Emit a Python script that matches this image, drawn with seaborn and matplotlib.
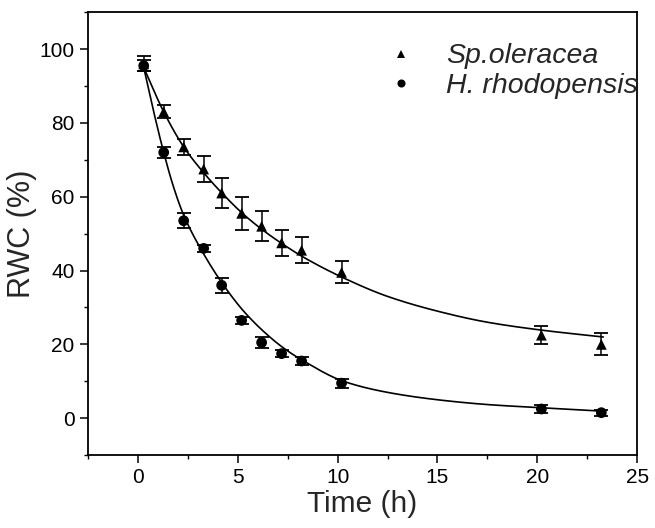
import numpy as np
import pandas as pd
import matplotlib
matplotlib.use("Agg")
import matplotlib.pyplot as plt
import seaborn as sns
from matplotlib.ticker import MultipleLocator

# ---- data ----
time_h = [0.3, 1.3, 2.3, 3.3, 4.2, 5.2, 6.2, 7.2, 8.2, 10.2, 20.2, 23.2]
sp_rwc = [96, 83, 73.5, 67.5, 61, 55.5, 52, 47.5, 45.5, 39.5, 22.5, 20]
sp_err = [2, 1.8, 2.2, 3.5, 4, 4.5, 4, 3.5, 3.5, 3, 2.5, 3]
hr_rwc = [95.5, 72, 53.5, 46, 36, 26.5, 20.5, 17.5, 15.5, 9.5, 2.5, 1.5]
hr_err = [1.5, 1.5, 2, 1, 2, 1, 1.5, 1, 1, 1.2, 1, 0.8]

# fitted curves
sp_fit_x = [0.3, 1.3, 2.3, 3.3, 4.3, 5.3, 6.3, 7.3, 8.3, 10.3, 12.5, 15, 17.5, 20.3, 23.3]
sp_fit_y = [95, 83, 73.5, 66.5, 60.5, 55.2, 50.8, 47, 43.6, 38, 33, 29, 26, 23.8, 22]
hr_fit_x = [0.3, 0.8, 1.3, 1.8, 2.3, 3.3, 4.3, 5.3, 6.3, 7.3, 8.3, 10.3, 12.5, 15, 17.5, 20.3, 23.3]
hr_fit_y = [95, 83, 72, 62.5, 55, 44.5, 36, 29, 23.5, 19, 15.5, 10, 7, 5, 3.7, 2.8, 1.9]

labels = ["Sp.oleracea", "H. rhodopensis"]
x_ticks = [0, 5, 10, 15, 20, 25]
y_ticks = [0, 20, 40, 60, 80, 100]

sns.set_theme(style="ticks")
plt.rcParams["font.family"] = ["Liberation Sans", "DejaVu Sans"]

fig = plt.figure(figsize=(6.55, 5.28), dpi=100)
ax = fig.add_axes([0.134, 0.138, 0.839, 0.839])


def pchip(xs, ys, n=500):
    """Monotone cubic (Fritsch-Carlson) smoothing through the read-off points."""
    x = np.asarray(xs, float)
    y = np.asarray(ys, float)
    h = np.diff(x)
    d = np.diff(y) / h
    m = np.zeros_like(y)
    for k in range(1, len(x) - 1):
        if d[k - 1] * d[k] > 0:
            w1 = 2 * h[k] + h[k - 1]
            w2 = h[k] + 2 * h[k - 1]
            m[k] = (w1 + w2) / (w1 / d[k - 1] + w2 / d[k])
    m[0] = d[0]
    m[-1] = d[-1]
    xd = np.linspace(x[0], x[-1], n)
    idx = np.clip(np.searchsorted(x, xd) - 1, 0, len(x) - 2)
    t = (xd - x[idx]) / h[idx]
    h00 = 2 * t**3 - 3 * t**2 + 1
    h10 = t**3 - 2 * t**2 + t
    h01 = -2 * t**3 + 3 * t**2
    h11 = t**3 - t**2
    yd = h00 * y[idx] + h10 * h[idx] * m[idx] + h01 * y[idx + 1] + h11 * h[idx] * m[idx + 1]
    return xd, yd


xd, yd = pchip(sp_fit_x, sp_fit_y)
sns.lineplot(x=xd, y=yd, ax=ax, color="black", lw=1.2, sort=False)
xd, yd = pchip(hr_fit_x, hr_fit_y)
sns.lineplot(x=xd, y=yd, ax=ax, color="black", lw=1.2, sort=False)

ax.errorbar(time_h, sp_rwc, yerr=sp_err, fmt="none", ecolor="black",
            elinewidth=1.1, capsize=5, capthick=1.3)
ax.errorbar(time_h, hr_rwc, yerr=hr_err, fmt="none", ecolor="black",
            elinewidth=1.1, capsize=5, capthick=1.3)

df = pd.DataFrame({
    "Time": time_h * 2,
    "RWC": sp_rwc + hr_rwc,
    "Species": [labels[0]] * len(time_h) + [labels[1]] * len(time_h),
})
sns.scatterplot(data=df, x="Time", y="RWC", style="Species",
                markers={labels[0]: "^", labels[1]: "o"},
                color="black", s=60, edgecolor="black", linewidth=0,
                ax=ax, legend=True, zorder=5)

leg = ax.legend(loc="upper left", bbox_to_anchor=(0.523, 0.955), frameon=False,
                prop={"style": "italic", "size": 20.5}, markerscale=0.75,
                handlelength=1.0, handletextpad=1.1, labelspacing=0.12,
                borderaxespad=0.0)
leg.set_clip_on(False)

ax.set_xlim(-2.5, 25)
ax.set_ylim(-10, 110)
ax.set_xticks(x_ticks)
ax.set_yticks(y_ticks)
ax.xaxis.set_minor_locator(MultipleLocator(2.5))
ax.yaxis.set_minor_locator(MultipleLocator(10))
ax.tick_params(which="major", direction="out", length=6, width=1.1,
               labelsize=15, color="black", labelcolor="black")
ax.tick_params(which="minor", direction="out", length=3, width=1.0, color="black")
for s in ax.spines.values():
    s.set_linewidth(1.3)
    s.set_color("black")
ax.set_xlabel("Time (h)", fontsize=21.5, labelpad=2)
ax.set_ylabel("RWC (%)", fontsize=22, labelpad=2)

fig.savefig("out.png", dpi=100)
